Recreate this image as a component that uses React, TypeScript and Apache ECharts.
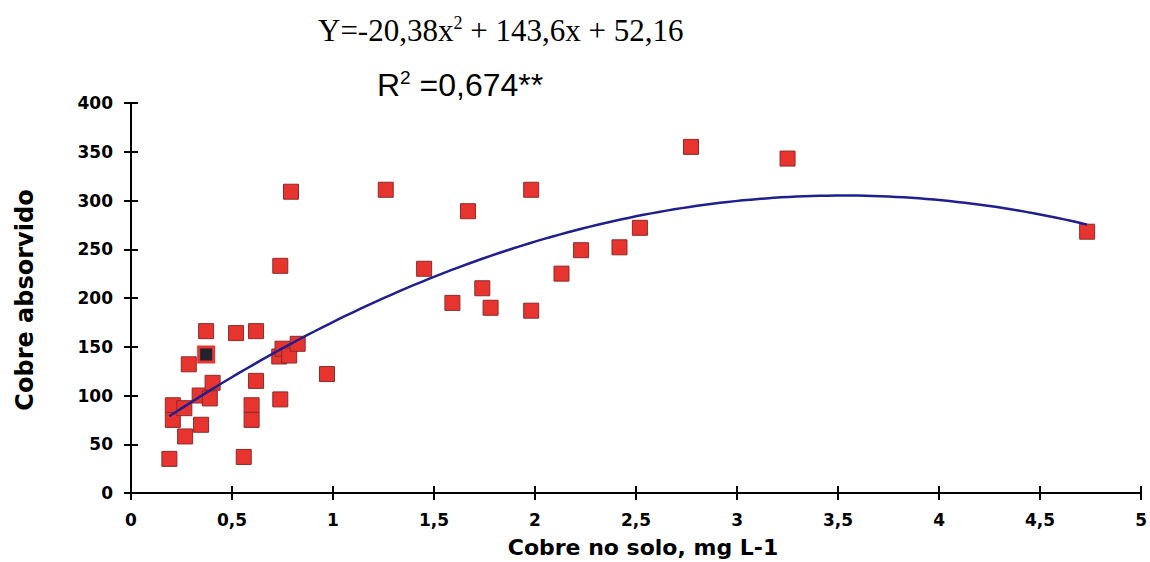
import React, { useEffect, useRef } from "react";
import * as echarts from "echarts";

// Soil copper (mg L-1) vs. absorbed copper
const soilCopper = [
  0.19, 0.207, 0.207, 0.264, 0.268, 0.286, 0.347, 0.34, 0.39, 0.372, 0.404,
  0.52, 0.558, 0.597, 0.597, 0.619, 0.619, 0.734, 0.739, 0.739, 0.75, 0.783,
  0.792, 0.825, 0.97, 1.261, 1.451, 1.591, 1.668, 1.739, 1.78, 1.981, 1.981,
  2.131, 2.228, 2.418, 2.519, 2.772, 3.25, 4.733,
];
const absorbedCopper = [
  35, 90, 75, 87, 58, 132, 70, 100, 97, 166, 113,
  164, 37, 90, 75, 166, 115, 140, 96, 233, 148, 141,
  309, 153, 122, 311, 230, 195, 289, 210, 190, 311, 187,
  225, 249, 252, 272, 355, 343, 268,
];
// Point drawn with a dark fill
const darkPoint = [[0.372, 142]];

// Quadratic fit: Y = a x^2 + b x + c
const fitCoefficients = [-20.38, 143.6, 52.16];
const equationText = "Y=-20,38x{sup|2} + 143,6x + 52,16";
const r2Text = "R{sup|2} =0,674**";

const xTicks = { min: 0, max: 5, interval: 0.5 };
const yTicks = { min: 0, max: 400, interval: 50 };

const xTitle = "Cobre no solo, mg L-1";
const yTitle = "Cobre absorvido";

export default function App() {
  const ref = useRef<HTMLDivElement>(null);

  useEffect(() => {
    if (!ref.current) return;
    const chart = echarts.init(ref.current, undefined, { renderer: "svg" });

    const points = soilCopper.map((x, i) => [x, absorbedCopper[i]]);
    const allX = soilCopper.concat(darkPoint.map((p) => p[0]));
    const xStart = Math.min(...allX);
    const xEnd = Math.max(...allX);
    const [a, b, c] = fitCoefficients;
    const fit: number[][] = [];
    const steps = 120;
    for (let i = 0; i <= steps; i++) {
      const x = xStart + ((xEnd - xStart) * i) / steps;
      fit.push([x, a * x * x + b * x + c]);
    }

    const tickFont = {
      fontFamily: "DejaVu Sans",
      fontWeight: "bold" as const,
      fontSize: 17,
      color: "#000",
    };
    const comma = (v: number) => String(v).replace(".", ",");

    const baseX = {
      type: "value" as const,
      min: xTicks.min,
      max: xTicks.max,
      interval: xTicks.interval,
      position: "bottom" as const,
      splitLine: { show: false },
      axisLine: { show: true, lineStyle: { color: "#000", width: 2 } },
    };
    const baseY = {
      type: "value" as const,
      min: yTicks.min,
      max: yTicks.max,
      interval: yTicks.interval,
      position: "left" as const,
      splitLine: { show: false },
      axisLine: { show: true, lineStyle: { color: "#000", width: 2 } },
    };

    chart.setOption({
      animation: false,
      backgroundColor: "#fff",
      grid: { left: 131, right: 7, top: 103, bottom: 69 },
      xAxis: [
        {
          ...baseX,
          axisTick: { show: true, inside: false, length: 7, lineStyle: { color: "#000", width: 2 } },
          axisLabel: { ...tickFont, margin: 18, formatter: comma },
        },
        {
          ...baseX,
          axisTick: { show: true, inside: true, length: 7, lineStyle: { color: "#000", width: 2 } },
          axisLabel: { show: false },
        },
      ],
      yAxis: [
        {
          ...baseY,
          axisTick: { show: true, inside: false, length: 7, lineStyle: { color: "#000", width: 2 } },
          axisLabel: { ...tickFont, margin: 18 },
        },
        {
          ...baseY,
          axisTick: { show: true, inside: true, length: 7, lineStyle: { color: "#000", width: 2 } },
          axisLabel: { show: false },
        },
      ],
      series: [
        {
          type: "line",
          data: fit,
          showSymbol: false,
          smooth: false,
          lineStyle: { color: "#1f1f8f", width: 2.5 },
          z: 3,
        },
        {
          type: "scatter",
          data: points,
          symbol: "rect",
          symbolSize: 15,
          itemStyle: { color: "#e8342f", borderColor: "#8c2a2a", borderWidth: 1, opacity: 1 },
          z: 2,
        },
        {
          type: "scatter",
          data: darkPoint,
          symbol: "rect",
          symbolSize: 15,
          itemStyle: { color: "#23232f", borderColor: "#e8342f", borderWidth: 3, opacity: 1 },
          z: 2,
        },
      ],
      graphic: [
        {
          type: "text",
          left: 318,
          top: 14,
          style: {
            text: equationText,
            fontFamily: "Liberation Serif",
            fontSize: 31,
            fill: "#000",
            rich: {
              sup: { fontFamily: "Liberation Serif", fontSize: 18, verticalAlign: "top", padding: [0, 0, 14, 0] },
            },
          },
        },
        {
          type: "text",
          left: 377,
          top: 68,
          style: {
            text: r2Text,
            fontFamily: "Liberation Sans",
            fontSize: 32,
            fill: "#000",
            rich: {
              sup: { fontFamily: "Liberation Sans", fontSize: 19, verticalAlign: "top", padding: [0, 0, 14, 0] },
            },
          },
        },
        {
          type: "text",
          x: 643,
          y: 547,
          style: {
            text: xTitle,
            fontFamily: "DejaVu Sans",
            fontWeight: "bold",
            fontSize: 22,
            fill: "#000",
            align: "center",
            verticalAlign: "middle",
          },
        },
        {
          type: "text",
          x: 25,
          y: 300,
          rotation: Math.PI / 2,
          style: {
            text: yTitle,
            fontFamily: "DejaVu Sans",
            fontWeight: "bold",
            fontSize: 24,
            fill: "#000",
            align: "center",
            verticalAlign: "middle",
          },
        },
      ],
    });

    return () => chart.dispose();
  }, []);

  return (
    <div
      ref={ref}
      style={{ position: "fixed", left: 0, top: 0, width: 1150, height: 562, background: "#fff" }}
    />
  );
}
